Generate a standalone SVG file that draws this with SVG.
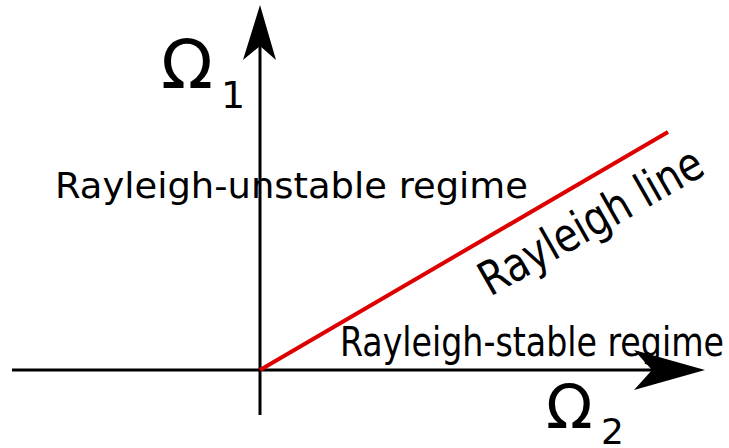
<svg xmlns="http://www.w3.org/2000/svg" width="729" height="448" viewBox="0 0 729 448">
<style>
.t{font-family:"DejaVu Sans","Liberation Sans",sans-serif;fill:#000}
.c{font-family:"DejaVu Sans Condensed","DejaVu Sans",sans-serif;fill:#000}
.ax{stroke:#000;stroke-width:3;fill:none}
</style>
<rect width="729" height="448" fill="#fff"/>
<g id="connectors">
<line class="ax" x1="12" y1="370" x2="660" y2="370"/>
<path d="M705,370 L634,350 L652,370 L634,390 Z" fill="#000"/>
<line class="ax" x1="260" y1="415" x2="260" y2="40"/>
<path d="M260,5 L276,60 L260,46 L243,60 Z" fill="#000"/>
<line x1="260" y1="370" x2="668" y2="132" stroke="#dd0000" stroke-width="4"/>
</g>
<g id="omega1"><text class="t" x="161" y="88" font-size="68">Ω</text><text class="t" x="221" y="108" font-size="38">1</text></g>
<g id="omega2"><text class="t" x="546" y="428" font-size="61">Ω</text><text class="t" x="601" y="444" font-size="36">2</text></g>
<g id="unstable"><text class="t" x="55" y="198" font-size="36" textLength="473" lengthAdjust="spacingAndGlyphs">Rayleigh-unstable regime</text></g>
<g id="stable"><text class="c" x="340" y="356" font-size="41" textLength="384" lengthAdjust="spacingAndGlyphs">Rayleigh-stable regime</text></g>
<g id="rline"><text class="c" x="0" y="0" font-size="47" textLength="250" lengthAdjust="spacingAndGlyphs" transform="translate(490,297) rotate(-29.6)">Rayleigh line</text></g>
</svg>
